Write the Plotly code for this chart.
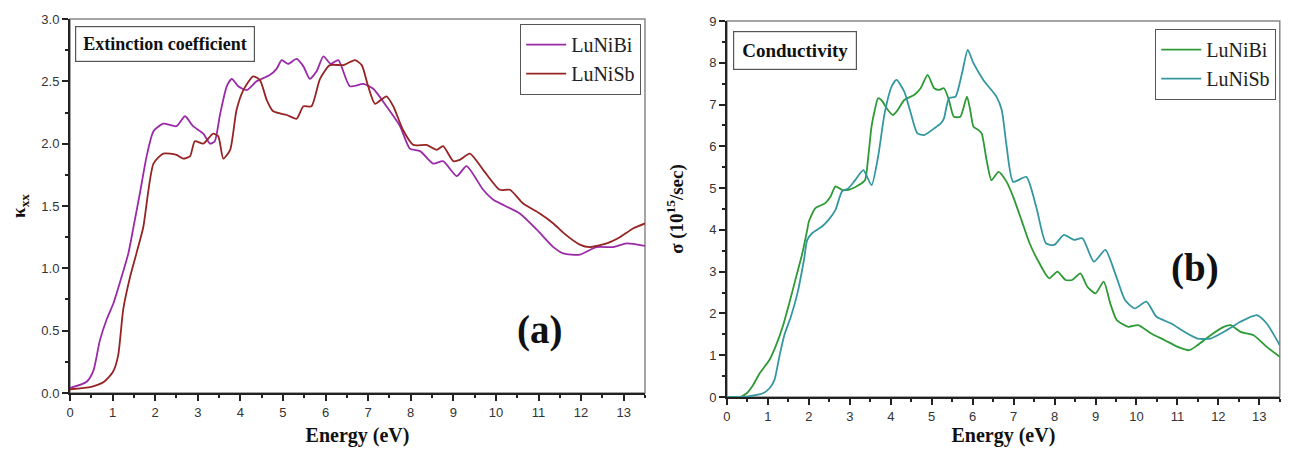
import plotly.graph_objects as go

# ---------------- data ----------------
ext_bi_x = [0, 0.39, 0.55, 0.70, 0.86, 1.02, 1.21, 1.37, 1.49, 1.64, 1.80, 1.96, 2.19, 2.50, 2.70, 2.89,
            3.13, 3.29, 3.40, 3.52, 3.68, 3.80, 3.95, 4.15, 4.38, 4.69, 4.85, 4.97, 5.12, 5.32, 5.48,
            5.63, 5.79, 5.95, 6.12, 6.30, 6.57, 6.89, 7.12, 7.43, 7.75, 7.98, 8.22, 8.53, 8.76, 9.08,
            9.31, 9.70, 9.94, 10.56, 10.96, 11.35, 11.58, 11.97, 12.36, 12.75, 13.07, 13.5]
ext_bi_y = [0.04, 0.09, 0.18, 0.42, 0.59, 0.72, 0.93, 1.12, 1.33, 1.60, 1.90, 2.10, 2.16, 2.14, 2.22, 2.14,
            2.08, 2.00, 2.02, 2.23, 2.46, 2.52, 2.46, 2.43, 2.50, 2.55, 2.60, 2.67, 2.64, 2.68, 2.62,
            2.52, 2.58, 2.70, 2.64, 2.67, 2.46, 2.48, 2.44, 2.30, 2.14, 1.96, 1.94, 1.84, 1.86, 1.74,
            1.82, 1.63, 1.55, 1.44, 1.31, 1.17, 1.12, 1.11, 1.17, 1.17, 1.20, 1.18]

ext_sb_x = [0, 0.5, 0.8, 1.01, 1.13, 1.25, 1.41, 1.56, 1.72, 1.96, 2.19, 2.50, 2.66, 2.82, 2.93, 3.13,
            3.36, 3.48, 3.60, 3.76, 3.91, 4.07, 4.30, 4.46, 4.62, 4.77, 5.09, 5.32, 5.48, 5.67, 5.87,
            6.10, 6.42, 6.69, 6.85, 7.00, 7.16, 7.43, 7.59, 7.82, 8.06, 8.37, 8.61, 8.76, 9.00, 9.15,
            9.39, 9.70, 10.09, 10.33, 10.64, 11.03, 11.35, 11.60, 11.97, 12.2, 12.6, 12.91, 13.22, 13.5]
ext_sb_y = [0.03, 0.05, 0.09, 0.17, 0.30, 0.67, 0.93, 1.12, 1.33, 1.84, 1.92, 1.91, 1.88, 1.90, 2.02, 2.00,
            2.08, 2.06, 1.88, 1.95, 2.27, 2.43, 2.54, 2.51, 2.35, 2.26, 2.23, 2.20, 2.30, 2.30, 2.52,
            2.63, 2.63, 2.67, 2.63, 2.46, 2.32, 2.38, 2.30, 2.11, 1.99, 1.99, 1.95, 1.98, 1.86, 1.87,
            1.92, 1.79, 1.63, 1.63, 1.52, 1.44, 1.36, 1.28, 1.19, 1.17, 1.20, 1.25, 1.32, 1.36]

cond_bi_x = [0, 0.32, 0.48, 0.64, 0.80, 1.04, 1.20, 1.36, 1.52, 1.68, 1.84, 1.96, 2.0, 2.16, 2.40, 2.53,
             2.65, 2.81, 2.97, 3.21, 3.37, 3.45, 3.53, 3.61, 3.69, 3.77, 3.93, 4.05, 4.17, 4.33, 4.57,
             4.73, 4.90, 5.06, 5.18, 5.30, 5.42, 5.54, 5.70, 5.86, 5.94, 6.02, 6.14, 6.22, 6.34, 6.46,
             6.63, 6.83, 6.99, 7.19, 7.39, 7.63, 7.87, 8.07, 8.27, 8.43, 8.63, 8.80, 9.00, 9.20, 9.36,
             9.52, 9.80, 10.04, 10.36, 10.69, 11.01, 11.29, 11.49, 11.81, 12.13, 12.30, 12.54, 12.86,
             13.18, 13.5]
cond_bi_y = [0, 0, 0.09, 0.29, 0.57, 0.89, 1.24, 1.68, 2.24, 2.84, 3.44, 4.0, 4.2, 4.52, 4.64, 4.80,
             5.04, 4.96, 4.96, 5.07, 5.19, 5.75, 6.47, 6.87, 7.15, 7.11, 6.87, 6.75, 6.87, 7.11, 7.23,
             7.39, 7.71, 7.39, 7.35, 7.39, 7.11, 6.71, 6.71, 7.19, 6.87, 6.47, 6.39, 6.31, 5.67, 5.19,
             5.39, 5.15, 4.79, 4.24, 3.68, 3.20, 2.84, 3.00, 2.80, 2.80, 2.96, 2.64, 2.48, 2.76, 2.24,
             1.84, 1.68, 1.72, 1.52, 1.36, 1.20, 1.12, 1.24, 1.48, 1.68, 1.72, 1.56, 1.48,
             1.20, 0.96]

cond_sb_x = [0, 0.40, 0.72, 0.88, 1.04, 1.16, 1.28, 1.40, 1.56, 1.72, 1.88, 1.96, 2.08, 2.32, 2.48, 2.65,
             2.81, 2.97, 3.13, 3.33, 3.53, 3.69, 3.85, 4.02, 4.14, 4.33, 4.49, 4.65, 4.82, 5.06, 5.22,
             5.30, 5.42, 5.58, 5.74, 5.88, 6.02, 6.26, 6.58, 6.71, 6.83, 6.99, 7.31, 7.55, 7.79, 7.99,
             8.23, 8.47, 8.68, 8.96, 9.24, 9.48, 9.72, 9.96, 10.24, 10.49, 10.85, 11.17, 11.49, 11.81,
             12.21, 12.54, 12.94, 13.18, 13.5]
cond_sb_y = [0, 0, 0.05, 0.09, 0.21, 0.41, 0.97, 1.48, 1.92, 2.48, 3.28, 3.76, 3.92, 4.08, 4.24, 4.48,
             4.92, 5.00, 5.19, 5.43, 5.07, 5.75, 6.79, 7.43, 7.59, 7.31, 6.79, 6.31, 6.27, 6.43, 6.55,
             6.67, 7.15, 7.19, 7.75, 8.31, 7.99, 7.59, 7.19, 6.87, 5.99, 5.15, 5.27, 4.56, 3.68, 3.64,
             3.88, 3.76, 3.80, 3.24, 3.52, 2.96, 2.32, 2.12, 2.28, 1.92, 1.76, 1.56, 1.40, 1.40,
             1.60, 1.80, 1.96, 1.76, 1.24]

# ---------------- figure ----------------
SERIF = "Liberation Serif, Times New Roman, serif"
SANS = "Liberation Sans, Arial, sans-serif"

fig = go.Figure()
lw = 1.8
fig.add_trace(go.Scatter(x=ext_bi_x, y=ext_bi_y, mode="lines", name="LuNiBi",
                         line=dict(color="#9A2AA8", width=lw, shape="spline", smoothing=0.6),
                         xaxis="x", yaxis="y", legend="legend"))
fig.add_trace(go.Scatter(x=ext_sb_x, y=ext_sb_y, mode="lines", name="LuNiSb",
                         line=dict(color="#962424", width=lw, shape="spline", smoothing=0.6),
                         xaxis="x", yaxis="y", legend="legend"))
fig.add_trace(go.Scatter(x=cond_bi_x, y=cond_bi_y, mode="lines", name="LuNiBi",
                         line=dict(color="#2E9A36", width=lw, shape="spline", smoothing=0.6),
                         xaxis="x2", yaxis="y2", legend="legend2"))
fig.add_trace(go.Scatter(x=cond_sb_x, y=cond_sb_y, mode="lines", name="LuNiSb",
                         line=dict(color="#3497A0", width=lw, shape="spline", smoothing=0.6),
                         xaxis="x2", yaxis="y2", legend="legend2"))

tickfont = dict(family=SANS, size=13, color="#333333")

def xax(domain, anchor):
    return dict(domain=domain, anchor=anchor, range=[0, 13.5], tickmode="linear", tick0=0, dtick=1,
                ticks="outside", ticklen=6, tickwidth=2, tickcolor="#222", showline=True, linecolor="#222",
                linewidth=2, showgrid=False, zeroline=False, tickfont=tickfont, automargin=False,
                minor=dict(dtick=0.5, ticks="outside", ticklen=3, tickwidth=1.5, tickcolor="#222", showgrid=False),
                title=dict(text="<b>Energy (eV)</b>", font=dict(family=SERIF, size=20, color="#111"),
                           standoff=12))

def yax(domain, anchor, rng, dtick, minor, fmt, title, standoff, tsize):
    return dict(domain=domain, anchor=anchor, range=rng, tickmode="linear", tick0=0, dtick=dtick,
                ticks="outside", ticklen=6, tickwidth=2, tickcolor="#222", showline=True, linecolor="#222",
                linewidth=2, showgrid=False, zeroline=False, tickfont=tickfont, tickformat=fmt,
                automargin=False,
                minor=dict(dtick=minor, ticks="outside", ticklen=3, tickwidth=1.5, tickcolor="#222", showgrid=False),
                title=dict(text=title, font=dict(family=SERIF, size=tsize, color="#111"), standoff=standoff))

fig.update_layout(
    width=1273, height=439,
    margin=dict(l=62, r=0, t=11, b=50, autoexpand=False),
    paper_bgcolor="white", plot_bgcolor="white",
    xaxis=xax([0, 0.4748], "y"),
    yaxis=yax([0.0106, 1.0], "x", [0, 3.0], 0.5, 0.25, ".1f", "<b>κ<sub>xx</sub></b>", 16, 19),
    xaxis2=xax([0.5425, 0.999], "y2"),
    yaxis2=yax([0.0, 0.9947], "x2", [0, 9], 1, 0.5, "d", "<b>σ (10<sup>15</sup>/sec)</b>", 20, 19),
    legend=dict(x=0.4715, y=0.987, xanchor="right", yanchor="top", bgcolor="white",
                bordercolor="#555", borderwidth=1.2, font=dict(family=SERIF, size=20, color="#222"),
                tracegroupgap=0, itemwidth=40),
    legend2=dict(x=0.9959, y=0.974, xanchor="right", yanchor="top", bgcolor="white",
                 bordercolor="#555", borderwidth=1.2, font=dict(family=SERIF, size=20, color="#222"),
                 tracegroupgap=0, itemwidth=40),
    showlegend=True,
)

# gray frame around each plot area (top/right edges)
for xr, yr in (("x domain", "y domain"), ("x2 domain", "y2 domain")):
    fig.add_shape(type="rect", xref=xr, yref=yr, x0=0, x1=1, y0=0, y1=1,
                  line=dict(color="#888888", width=1.5), layer="below")

# boxed panel titles
fig.add_annotation(xref="paper", yref="paper", x=0.0041, y=0.9815, xanchor="left", yanchor="top",
                   text="<b>Extinction coefficient</b>", showarrow=False,
                   font=dict(family=SERIF, size=18, color="#111"),
                   bordercolor="#555", borderwidth=1.2, borderpad=7, bgcolor="white")
fig.add_annotation(xref="paper", yref="paper", x=0.5475, y=0.968, xanchor="left", yanchor="top",
                   text="<b>Conductivity</b>", showarrow=False,
                   font=dict(family=SERIF, size=19, color="#111"),
                   bordercolor="#555", borderwidth=1.2, borderpad=8, bgcolor="white")

# panel labels
fig.add_annotation(xref="paper", yref="paper", x=0.3881, y=0.177, xanchor="center", yanchor="middle",
                   text="<b>(a)</b>", showarrow=False, font=dict(family=SERIF, size=39, color="#111"))
fig.add_annotation(xref="paper", yref="paper", x=0.929, y=0.341, xanchor="center", yanchor="middle",
                   text="<b>(b)</b>", showarrow=False, font=dict(family=SERIF, size=39, color="#111"))

fig.write_html("out.html")
